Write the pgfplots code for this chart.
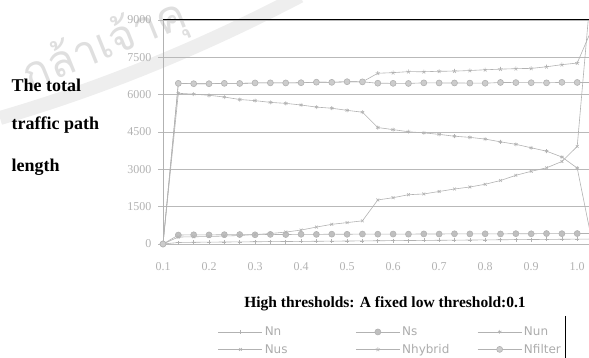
\documentclass[border=0pt]{standalone}
\usepackage{fontspec}
\setmainfont{Liberation Serif}
\newfontfamily\legendfont{DejaVu Sans}
\newfontfamily\thaifont[Script=Thai]{Loma}
\usepackage{pgfplots}
\pgfplotsset{compat=1.18}
\usepackage{pgfplotstable}

% Total traffic path length for each scheme, high threshold varied, low threshold fixed at 0.1
\pgfplotstableread{
x      Nn   Ns   Nun   Nus   Nhybrid Nfilter
0.1     0    0     0     0      0       0
0.1333 60  360  6055   280   6455    6455
0.1667 70  370  6020   290   6440    6440
0.2    75  365  5975   300   6440    6440
0.2333 80  375  5905   320   6455    6455
0.2667 85  380  5805   340   6450    6450
0.3    90  370  5760   380   6470    6470
0.3333 95  385  5690   420   6475    6475
0.3667 100 380  5650   480   6470    6470
0.4    105 390  5585   560   6480    6480
0.4333 110 385  5500   680   6500    6500
0.4667 115 395  5455   790   6495    6495
0.5    120 390  5370   860   6520    6520
0.5333 125 400  5295   930   6515    6515
0.5667 130 395  4680  1770   6860    6460
0.6    135 400  4595  1860   6885    6455
0.6333 140 395  4510  1980   6925    6450
0.6667 145 405  4465  2010   6920    6475
0.7    150 400  4405  2110   6940    6470
0.7333 155 410  4330  2210   6945    6470
0.7667 160 405  4285  2290   6970    6465
0.8    165 410  4215  2400   7000    6460
0.8333 170 405  4105  2550   7025    6490
0.8667 175 415  4005  2760   7045    6485
0.9    180 410  3865  2920   7055    6480
0.9333 185 420  3730  3060   7120    6475
0.9667 190 415  3495  3315   7205    6495
1.0    195 420  3050  3920   7270    6490
1.0333 200 420     0 11000   8700    6490
}\pathdata

\begin{document}
\begin{tikzpicture}[x=1pt,y=1pt]
\useasboundingbox (0pt,0pt) rectangle (589pt,358pt);

% faint seal in the page background
\draw[gray!13, line width=14pt] (0pt,240pt) .. controls (110pt,272pt) and (210pt,315pt) .. (300pt,362pt);
\node[rotate=22, text=gray!25, font=\thaifont\fontsize{44}{44}\selectfont] at (105pt,312pt) {กล้าเจ้าคุ};

% y-axis caption
\node[anchor=west, font=\bfseries\fontsize{18}{18}\selectfont] at (8pt,273pt) {The total};
\node[anchor=west, font=\bfseries\fontsize{18}{18}\selectfont] at (8pt,233pt) {traffic path};
\node[anchor=west, font=\bfseries\fontsize{18}{18}\selectfont] at (8pt,191pt) {length};

% x-axis caption
\node[font=\bfseries\fontsize{15.5}{15.5}\selectfont] at (385pt,54pt) {High thresholds: A fixed low threshold:0.1};

\begin{axis}[
  at={(163pt,114pt)}, anchor=south west,
  scale only axis, width=426pt, height=224pt,
  xmin=0.1, xmax=1.0256, ymin=0, ymax=9000,
  xtick={0.1,0.2,0.3,0.4,0.5,0.6,0.7,0.8,0.9,1.0},
  xticklabels={0.1,0.2,0.3,0.4,0.5,0.6,0.7,0.8,0.9,1.0},
  ytick={0,1500,3000,4500,6000,7500,9000},
  yticklabels={0,1500,3000,4500,6000,7500,9000},
  ymajorgrids,
  major grid style={gray!55, line width=0.6pt},
  ytick style={gray!55, line width=0.6pt},
  xtick style={draw=none},
  tick align=outside, major tick length=5pt,
  tick label style={text=gray!60, font=\fontsize{12}{12}\selectfont},
  yticklabel style={xshift=-3pt},
  xticklabel style={yshift=-10pt},
  axis line style={draw=none},
  every axis plot/.append style={line width=0.6pt, gray!60},
  legend columns=3,
  legend cell align=left,
  legend style={at={(0.129,-0.36)}, anchor=north west, draw=none, fill=none,
    inner sep=0pt, row sep=3pt,
    font=\legendfont\fontsize{12}{12}\selectfont, text=gray!65,
    /tikz/column 2/.style={column sep=66pt},
    /tikz/column 4/.style={column sep=26pt}},
  legend image code/.code={\draw[mark repeat=2, mark phase=2, #1] plot coordinates {(0pt,0pt) (22pt,0pt) (44pt,0pt)};},
]
\addplot[mark=+, mark size=2pt] table[x=x, y=Nn] {\pathdata};
\addlegendentry{Nn}
\addplot[mark=*, mark size=3pt, mark options={fill=gray!50}] table[x=x, y=Ns] {\pathdata};
\addlegendentry{Ns}
\addplot[mark=asterisk, mark size=2pt] table[x=x, y=Nun] {\pathdata};
\addlegendentry{Nun}
\addplot[mark=x, mark size=2pt] table[x=x, y=Nus] {\pathdata};
\addlegendentry{Nus}
\addplot[mark=star, mark size=2.2pt] table[x=x, y=Nhybrid] {\pathdata};
\addlegendentry{Nhybrid}
\addplot[mark=*, mark size=3pt, mark options={fill=gray!40}] table[x=x, y=Nfilter] {\pathdata};
\addlegendentry{Nfilter}

\draw[black, line width=1pt] (rel axis cs:0,1) -- (rel axis cs:1,1);
\draw[gray!60, line width=0.6pt] (rel axis cs:0,0) -- (rel axis cs:0,1);
\end{axis}

% edge of the legend frame
\draw[black, line width=0.8pt] (565pt,42pt) -- (565pt,0pt);
\end{tikzpicture}
\end{document}
